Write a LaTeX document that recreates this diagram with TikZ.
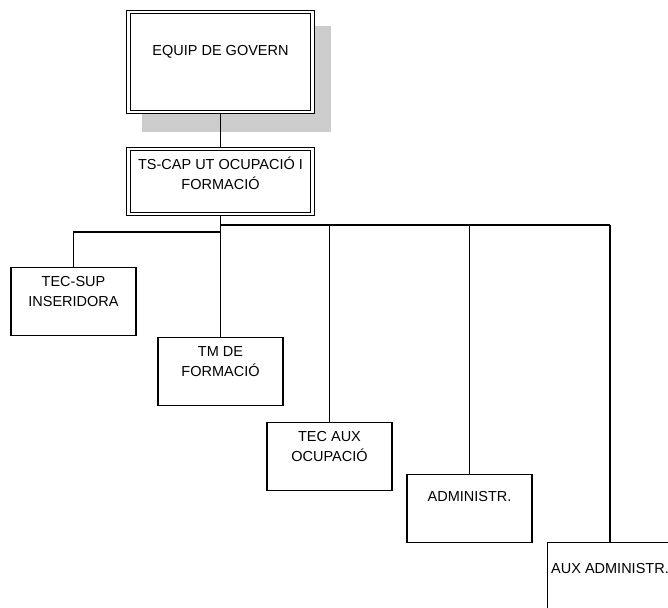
\documentclass[tikz,border=0pt]{standalone}
\usepackage{fontspec}
\setmainfont{Liberation Sans}
\usetikzlibrary{backgrounds,calc}
\definecolor{shadowfill}{RGB}{204,204,204}
\begin{document}
\begin{tikzpicture}[x=1pt,y=-1pt,
  every node/.style={font=\fontsize{14.5}{20}\selectfont},
  box/.style={draw, line width=1.1pt, fill=white, minimum width=125pt,
    minimum height=68pt, inner sep=0pt, anchor=north},
  dbox/.style={draw, line width=1.1pt, double=white, double distance=2.6pt,
    fill=white, inner sep=0pt},
  caption/.style={align=center, inner sep=0pt},
  conn/.style={line width=1.1pt},
  busline/.style={line width=2pt}]
\clip (0,0) rectangle (668,607);

% top of the chart
\node[dbox, minimum width=184pt, minimum height=100pt] (equip) at (220.5,62) {};
\node[caption] (equipt) at ($(equip.north)+(0,40)$) {EQUIP DE GOVERN};

\node[dbox, minimum width=184pt, minimum height=65pt] (tscap) at (220.5,181.5) {};
\node[caption] (tscapt) at ($(tscap.north)+(0,24.5)$) {TS-CAP UT OCUPACIÓ I\\FORMACIÓ};

% drop shadow behind the head box
\begin{scope}[on background layer]
  \fill[shadowfill] ($(equip.north west)+(14,15)$) rectangle ($(equip.south east)+(18,19)$);
\end{scope}

% staff boxes
\node[box] (tecsup) at (73.5,267) {};
\node[caption] (tecsupt) at ($(tecsup.north)+(0,25)$) {TEC-SUP\\INSERIDORA};

\node[box] (tm) at (220.5,337) {};
\node[caption] (tmt) at ($(tm.north)+(0,24.5)$) {TM DE\\FORMACIÓ};

\node[box] (tecaux) at (329.5,422) {};
\node[caption] (tecauxt) at ($(tecaux.north)+(0,25)$) {TEC AUX\\OCUPACIÓ};

\node[box] (admin) at (469.5,474) {};
\node[caption] (admint) at ($(admin.north)+(0,23)$) {ADMINISTR.};

\node[box] (aux) at (610,542) {};
\node[caption] (auxt) at ($(aux.north)+(0,26)$) {AUX ADMINISTR.};

% connectors
\coordinate (bus) at (220.5,225);
\coordinate (branch) at (220.5,232);
\draw[conn] (equip.south) -- (tscap.north);
\draw[conn] (tscap.south) -- (tm.north);
\draw[busline] (bus) -- (bus -| aux.north);
\draw[conn] (branch) -| (tecsup.north);
\draw[conn] (bus -| tecaux.north) -- (tecaux.north);
\draw[conn] (bus -| admin.north) -- (admin.north);
\draw[conn] (bus -| aux.north) -- (aux.north);
\end{tikzpicture}
\end{document}
